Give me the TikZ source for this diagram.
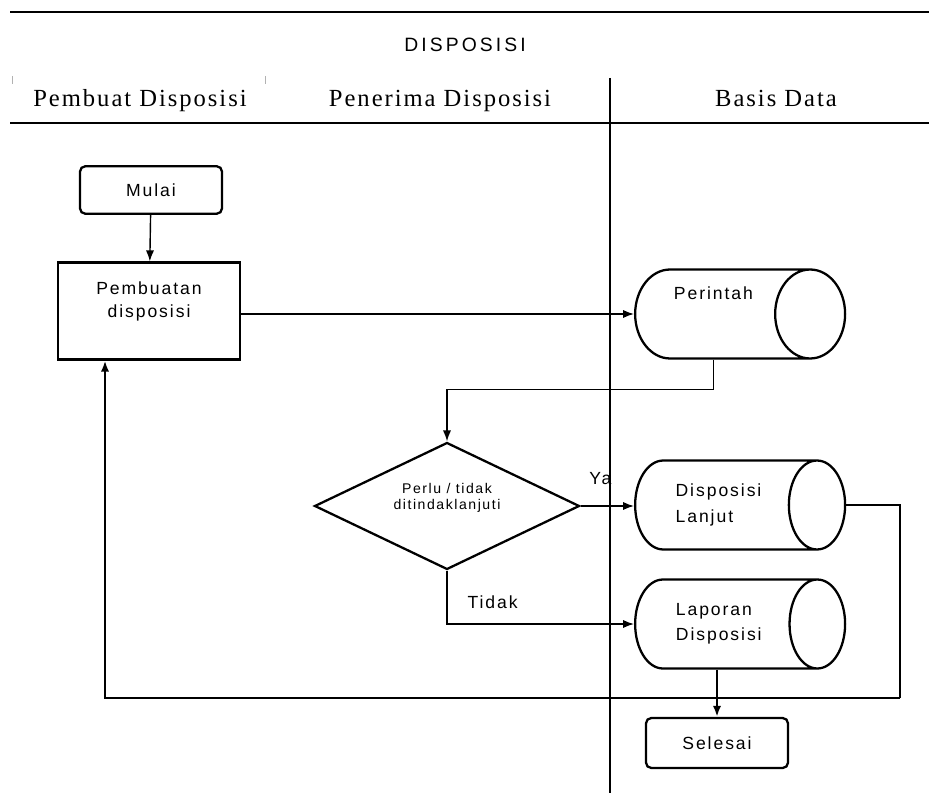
\documentclass[tikz,border=0pt]{standalone}
\usepackage{fontspec}
\setmainfont{Liberation Serif}
\setsansfont{Liberation Sans}
\newfontfamily\nodefont[LetterSpace=11]{Liberation Sans}
\newfontfamily\headfont[LetterSpace=8]{Liberation Serif}
\newfontfamily\titlefont[LetterSpace=16]{Liberation Sans}
\usetikzlibrary{arrows.meta,positioning,shapes.geometric}

\begin{document}
\begin{tikzpicture}[
  x=0.02cm, y=-0.02cm,
  term/.style={draw, rounded corners=3pt, line width=1.3pt, minimum width=2.84cm, minimum height=0.95cm, font=\nodefont\normalsize},
  proc/.style={draw, line width=1.3pt, minimum width=3.64cm, minimum height=1.94cm, align=center, font=\nodefont\fontsize{10}{13}\selectfont},
  db/.style={draw, cylinder, shape aspect=1.05, anchor=west, line width=1.3pt, minimum width=1.78cm, minimum height=4.2cm, align=left, font=\nodefont\fontsize{10}{14.5}\selectfont},
  dec/.style={draw, diamond, aspect=2, line width=1.3pt, inner sep=0pt, minimum width=5.3cm, minimum height=2.54cm, align=center, font=\nodefont\fontsize{8}{9.5}\selectfont},
  head/.style={font=\headfont\fontsize{14}{16}\selectfont, anchor=base},
  lbl/.style={font=\nodefont\fontsize{10}{12}\selectfont},
  arr/.style={-{Latex[length=2.2mm]}, line width=0.8pt},
  line/.style={line width=0.8pt}
]
  \useasboundingbox (0,0) rectangle (929,793);

  % swimlanes
  \draw[line width=1.4pt] (10,12) -- (929,12);
  \draw[line width=1.2pt] (10,123) -- (929,123);
  \draw[line width=0.8pt] (610,78) -- (610,793);
  \draw[gray!60, thin] (12,76) -- (12,84);
  \draw[gray!60, thin] (265,76) -- (265,84);
  \node[font=\titlefont\fontsize{11}{13}\selectfont] (judul) at (465,45) {DISPOSISI};
  \node[head] (laneA) at (140,107) {Pembuat Disposisi};
  \node[head] (laneB) at (440,107) {Penerima Disposisi};
  \node[head] (laneC) at (776,107) {Basis Data};

  % nodes
  \node[term] (mulai) at (151,190) {Mulai};
  \node[proc, text depth=13pt] (buat) at (149,311) {Pembuatan\\disposisi};
  \node[db, text depth=24pt] (perintah) at (634,314) {Perintah};
  \node[dec, text depth=11pt] (cek) at (447,506) {Perlu / tidak\\ditindaklanjuti};
  \node[db] (lanjut) at (634,505) {Disposisi\\Lanjut};
  \node[db] (lapor) at (634,624) {Laporan\\Disposisi};
  \node[term, minimum height=1cm] (selesai) at (717,743) {Selesai};

  % connectors
  \draw[arr] (mulai) -- (buat);
  \draw[arr] (buat.east |- perintah.west) -- (perintah.west);
  \draw[arr] (perintah.south) -- ++(0,30) -| (cek.north);
  \draw[arr] (cek.east) -- node[pos=0.37, above=0.3cm, lbl] {Ya} (cek.east -| lanjut.west);
  \draw[arr] (cek.south) |- node[pos=0.3, right=8pt, lbl] {Tidak} (lapor.west);
  \coordinate (bend) at (900,698);
  \coordinate (up) at (105,698);
  \draw[line] (lanjut.east) -| (bend);
  \draw[arr, line width=1.5pt] (bend) -- (up) -- (up |- buat.south);
  \draw[arr, line width=1.5pt] (lapor.south -| selesai) -- (selesai);
\end{tikzpicture}
\end{document}
